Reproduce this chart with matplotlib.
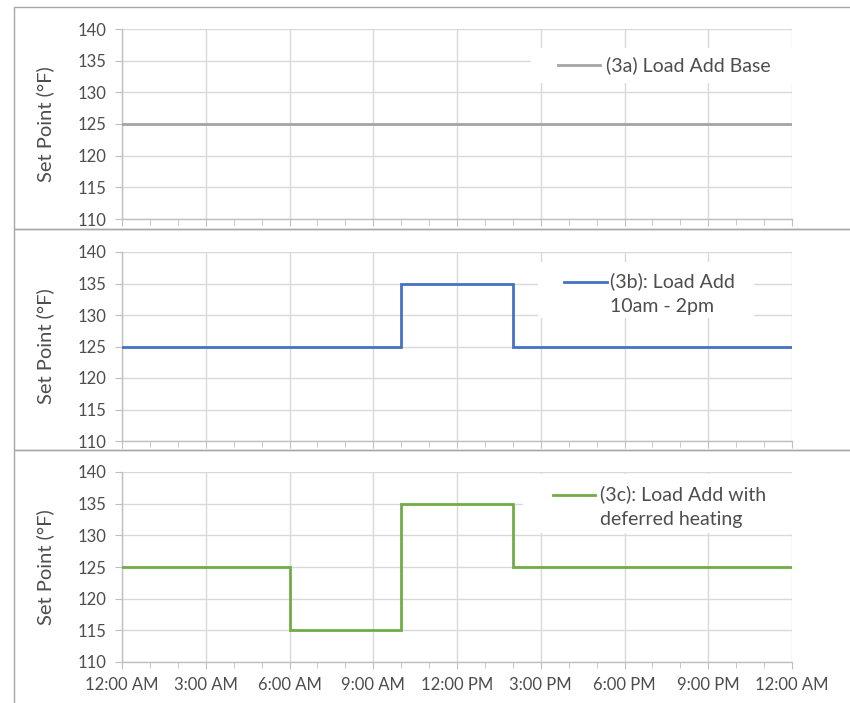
import matplotlib
matplotlib.use("Agg")
import matplotlib.pyplot as plt
from matplotlib.patches import Rectangle
from matplotlib.lines import Line2D
from matplotlib.ticker import MultipleLocator

plt.rcParams['font.family'] = ['Lato', 'DejaVu Sans']

# Hour of day at which each step begins (final value holds to midnight)
hours_a = [0, 24]
setpoint_a = [125, 125]

hours_b = [0, 10, 14, 24]
setpoint_b = [125, 135, 125, 125]

hours_c = [0, 6, 10, 14, 24]
setpoint_c = [125, 115, 135, 125, 125]

tick_hours = [0, 3, 6, 9, 12, 15, 18, 21, 24]
tick_labels = ["12:00 AM", "3:00 AM", "6:00 AM", "9:00 AM", "12:00 PM",
               "3:00 PM", "6:00 PM", "9:00 PM", "12:00 AM"]
y_ticks = [110, 115, 120, 125, 130, 135, 140]

series = [
    (hours_a, setpoint_a, "#A5A5A5", "(3a) Load Add Base"),
    (hours_b, setpoint_b, "#4472C4", "(3b): Load Add\n10am - 2pm"),
    (hours_c, setpoint_c, "#70AD47", "(3c): Load Add with\ndeferred heating"),
]

W, H = 850, 703
fig = plt.figure(figsize=(W / 100, H / 100), dpi=100)

text_color = "#4D4D4D"
grid_color = "#D9D9D9"
axis_color = "#BFBFBF"

# axes boxes in pixels: (top, bottom)
axes_px = [(29, 219), (252, 441), (472, 662)]
left_px, right_px = 122, 792
# outer panel frames in pixels: (top, bottom)
frames_px = [(7, 229), (229, 450), (450, 710)]
# legend layout in pixels: white box (x0, y0, x1, y1), handle (x0, x1, y), text (x, y-centre)
legend_boxes = [(531, 48, 792, 83), (538, 262, 754, 318), (523, 474, 792, 533)]
legend_handles = [(558, 600, 65), (564, 607, 282), (553, 595, 495)]
legend_texts = [(606, 65), (610, 293.5), (600, 506.5)]

for t, b in frames_px:
    fig.add_artist(Rectangle((14 / W, 1 - b / H), (W + 10 - 14) / W, (b - t) / H,
                             transform=fig.transFigure, fill=False,
                             edgecolor="#A6A6A6", linewidth=1.0, clip_on=False))

for i, ((hrs, vals, color, label), (top, bot)) in enumerate(zip(series, axes_px)):
    ax = fig.add_axes([left_px / W, 1 - bot / H, (right_px - left_px) / W, (bot - top) / H])
    ax.step(hrs, vals, where="post", color=color, linewidth=2.0,
            solid_joinstyle="miter", zorder=3)
    ax.set_xlim(0, 24)
    ax.set_ylim(110, 140)
    ax.set_xticks(tick_hours)
    ax.xaxis.set_minor_locator(MultipleLocator(1))
    ax.set_yticks(y_ticks)
    ax.grid(True, which="major", color=grid_color, linewidth=1.0, zorder=0)
    for s in ("top", "right"):
        ax.spines[s].set_visible(False)
    for s in ("left", "bottom"):
        ax.spines[s].set_color(axis_color)
        ax.spines[s].set_linewidth(1.0)
    ax.tick_params(axis="both", which="major", length=5, color=axis_color,
                   labelsize=12, labelcolor=text_color, direction="out")
    ax.tick_params(axis="x", which="minor", length=4, color=axis_color, direction="out")
    ax.tick_params(axis="x", which="major", pad=6)
    ax.tick_params(axis="y", which="major", pad=6)
    if i == len(series) - 1:
        ax.set_xticklabels(tick_labels)
    else:
        ax.set_xticklabels([])
    ax.set_ylabel("Set Point (°F)", fontsize=14.5, color=text_color, labelpad=17)
    ax.set_axisbelow(True)

    # legend: white box, line sample and label
    def fx(px):
        return (px - left_px) / (right_px - left_px)

    def fy(py):
        return (bot - py) / (bot - top)

    bx0, by0, bx1, by1 = legend_boxes[i]
    ax.add_patch(Rectangle((fx(bx0), fy(by1)), fx(bx1) - fx(bx0), fy(by0) - fy(by1),
                           transform=ax.transAxes, facecolor="white",
                           edgecolor="none", zorder=2))
    hx0, hx1, hy = legend_handles[i]
    ax.add_line(Line2D([fx(hx0), fx(hx1)], [fy(hy), fy(hy)], transform=ax.transAxes,
                       color=color, linewidth=2.0, zorder=4))
    tx, ty = legend_texts[i]
    ax.text(fx(tx), fy(ty), label, transform=ax.transAxes, fontsize=14,
            color=text_color, ha="left", va="center", linespacing=1.55, zorder=4)

fig.savefig("out.png", dpi=100, facecolor="white")
